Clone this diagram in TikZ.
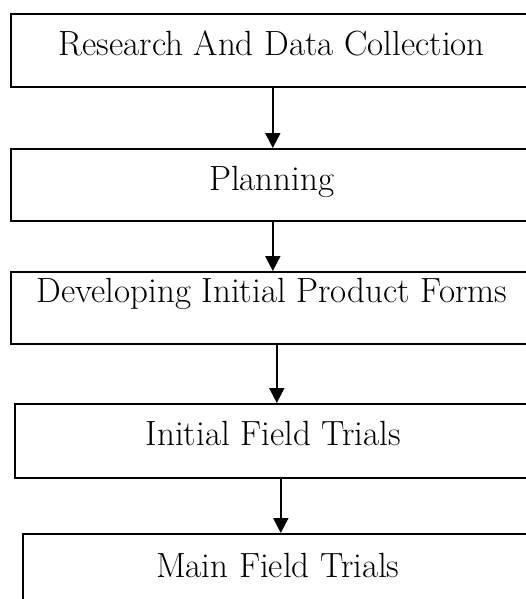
\documentclass[tikz,border=0pt]{standalone}
\usetikzlibrary{arrows.meta}
\begin{document}
\begin{tikzpicture}[x=1pt,y=-1pt,
  stage/.style={draw=black, line width=1.6pt, rectangle, inner sep=0pt, anchor=north west,
    font=\fontsize{35}{42}\selectfont},
  flow/.style={line width=2pt, -{Triangle[width=15pt,length=15pt]}}]
\useasboundingbox (0,0) rectangle (526,599);
\clip (0,0) rectangle (526,599);
\node[stage, minimum width=522pt, minimum height=73pt, text height=42pt, text depth=31pt] (b1) at (10,13) {Research And Data Collection};
\node[stage, minimum width=522pt, minimum height=72pt, text height=42pt, text depth=30pt] (b2) at (10,148) {Planning};
\node[stage, minimum width=522pt, minimum height=72pt, text height=31pt, text depth=41pt] (b3) at (10,271) {Developing Initial Product Forms};
\node[stage, minimum width=517pt, minimum height=74pt, text height=42pt, text depth=32pt] (b4) at (14,403) {Initial Field Trials};
\node[stage, minimum width=510pt, minimum height=73pt, text height=44pt, text depth=29pt] (b5) at (22,533) {Main Field Trials};
\draw[flow] ([xshift=1pt]b1.south) -- ([xshift=1pt]b1.south |- b2.north);
\draw[flow] ([xshift=1pt]b2.south) -- ([xshift=1pt]b2.south |- b3.north);
\draw[flow] ([xshift=5pt]b3.south) -- ([xshift=5pt]b3.south |- b4.north);
\draw[flow] ([xshift=7.5pt]b4.south) -- ([xshift=7.5pt]b4.south |- b5.north);
\end{tikzpicture}
\end{document}
